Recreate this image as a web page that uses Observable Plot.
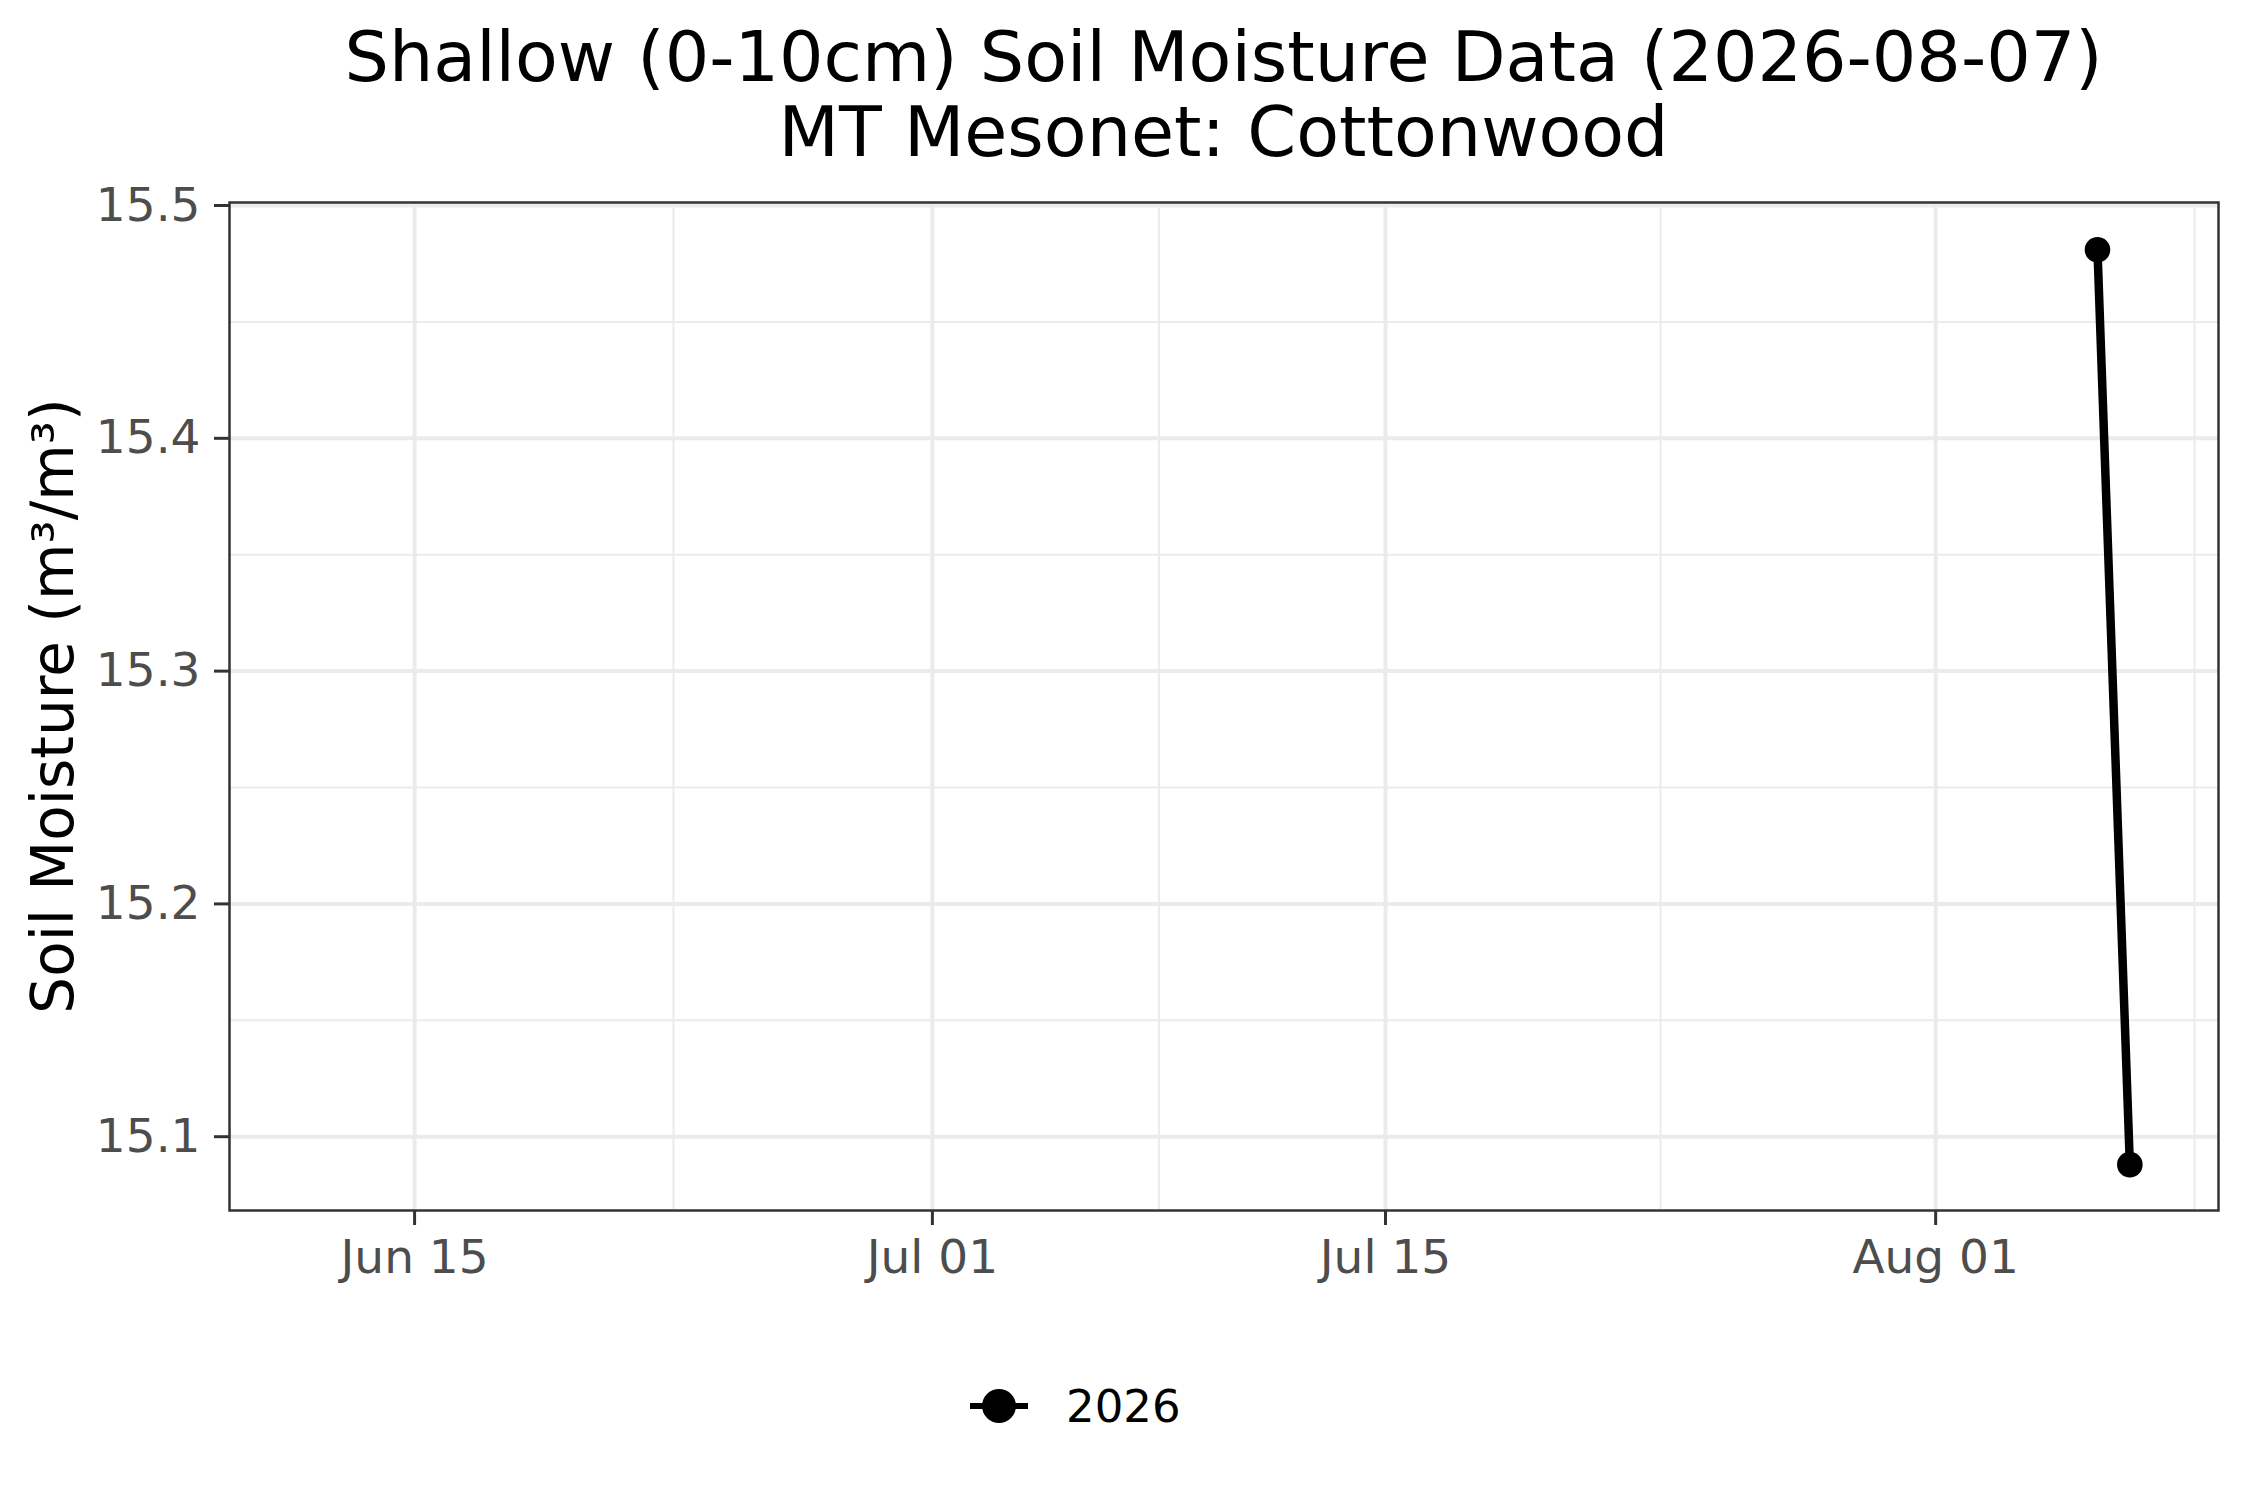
<!DOCTYPE html>
<html>
<head>
<meta charset="utf-8">
<script src="https://cdn.jsdelivr.net/npm/d3@7"></script>
<script src="https://cdn.jsdelivr.net/npm/@observablehq/plot@0.6"></script>
<style>
  html, body { margin: 0; padding: 0; background: #fff; }
  body { font-family: "DejaVu Sans", sans-serif; }
  #wrap { position: relative; width: 2250px; height: 1500px; overflow: hidden; }
  #title { position: absolute; left: 229px; width: 1989px; top: 20px; text-align: center;
           font-size: 70px; line-height: 75px; color: #000; }
  #ylab { position: absolute; left: 53px; top: 706px; transform: translate(-50%, -50%) rotate(-90deg);
          font-size: 58px; white-space: nowrap; color: #000; }
  #legend { position: absolute; left: 0; top: 1380px; width: 2250px; height: 60px; }
  #plot { position: absolute; left: 0; top: 0; }
</style>
</head>
<body>
<div id="wrap">
  <div id="plot"></div>
  <div id="title">Shallow (0-10cm) Soil Moisture Data (2026-08-07)<br>MT Mesonet: Cottonwood</div>
  <div id="ylab">Soil Moisture (m³/m³)</div>
  <div id="legend"></div>
</div>
<script>
// ---- data ----
const dates = ["2026-08-06", "2026-08-07"];
const moisture = [15.481, 15.088];
const seriesYear = "2026";

// ---- axes ----
const xDomain = ["2026-06-09T06:45:00Z", "2026-08-09T17:45:00Z"];
const yDomain = [15.0683, 15.5013];
const xMajorTicks = ["2026-06-15", "2026-07-01", "2026-07-15", "2026-08-01"];
const xMinorTicks = ["2026-06-23", "2026-07-08", "2026-07-23T12:00:00Z", "2026-08-09"];
const yMajorTicks = [15.1, 15.2, 15.3, 15.4, 15.5];
const yMinorTicks = [15.15, 15.25, 15.35, 15.45];

const parse = s => new Date(s.length === 10 ? s + "T00:00:00Z" : s);
const data = dates.map((d, i) => ({date: parse(d), value: moisture[i], year: seriesYear}));

const plot = Plot.plot({
  width: 2250,
  height: 1500,
  marginTop: 202,
  marginBottom: 290,
  marginLeft: 229,
  marginRight: 32,
  style: {fontFamily: "DejaVu Sans, sans-serif", background: "transparent", overflow: "visible"},
  x: {type: "utc", domain: xDomain.map(parse)},
  y: {domain: yDomain},
  marks: [
    Plot.gridX(xMinorTicks.map(parse), {stroke: "#EBEBEB", strokeOpacity: 1, strokeWidth: 2}),
    Plot.gridY(yMinorTicks, {stroke: "#EBEBEB", strokeOpacity: 1, strokeWidth: 2}),
    Plot.gridX(xMajorTicks.map(parse), {stroke: "#EBEBEB", strokeOpacity: 1, strokeWidth: 4}),
    Plot.gridY(yMajorTicks, {stroke: "#EBEBEB", strokeOpacity: 1, strokeWidth: 4}),
    Plot.axisX(xMajorTicks.map(parse), {
      tickSize: 15, tickPadding: 14, stroke: "#333333", strokeWidth: 3, fill: "#4D4D4D",
      fontSize: 47, tickFormat: d3.utcFormat("%b %d"), label: null
    }),
    Plot.axisY(yMajorTicks, {
      tickSize: 15, tickPadding: 14, stroke: "#333333", strokeWidth: 3, fill: "#4D4D4D",
      fontSize: 47, tickFormat: d3.format(".1f"), label: null
    }),
    Plot.frame({stroke: "#333333", strokeWidth: 2.5}),
    Plot.line(data, {x: "date", y: "value", stroke: "black", strokeWidth: 8.5}),
    Plot.dot(data, {x: "date", y: "value", r: 12.8, fill: "black", stroke: "none"})
  ]
});
document.getElementById("plot").appendChild(plot);

// legend
const legend = d3.select("#legend").append("svg").attr("width", 2250).attr("height", 60);
const g = legend.append("g").attr("transform", "translate(0,26)");
g.append("line").attr("x1", 970).attr("x2", 1028).attr("y1", 0).attr("y2", 0)
  .attr("stroke", "black").attr("stroke-width", 6);
g.append("circle").attr("cx", 999).attr("cy", 0).attr("r", 17).attr("fill", "black");
g.append("text").attr("x", 1066).attr("y", 0).attr("dy", "0.35em")
  .attr("font-size", 45).attr("font-family", "DejaVu Sans, sans-serif").attr("fill", "black")
  .text(seriesYear);
</script>
</body>
</html>
